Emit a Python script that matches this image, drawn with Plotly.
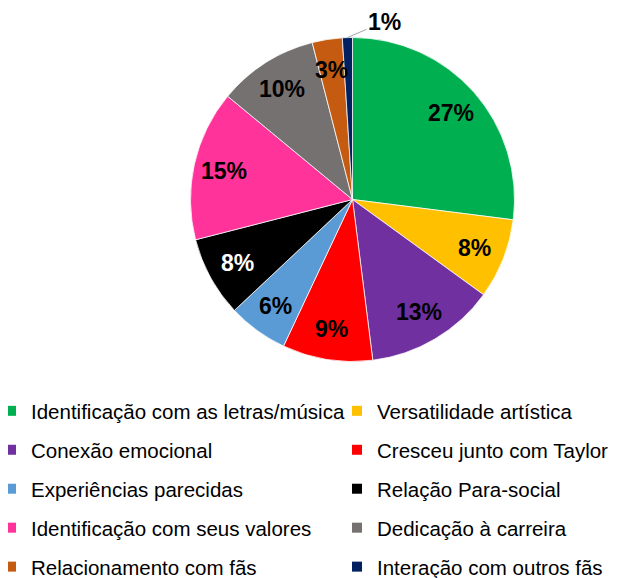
import math
import plotly.graph_objects as go

labels = [
    "Identificação com as letras/música",
    "Versatilidade artística",
    "Conexão emocional",
    "Cresceu junto com Taylor",
    "Experiências parecidas",
    "Relação Para-social",
    "Identificação com seus valores",
    "Dedicação à carreira",
    "Relacionamento com fãs",
    "Interação com outros fãs",
]
values = [27, 8, 13, 9, 6, 8, 15, 10, 3, 1]
colors = ["#00B050", "#FFC000", "#7030A0", "#FF0000", "#5B9BD5",
          "#000000", "#FF3399", "#767171", "#C55A11", "#002060"]
text_colors = ["#000000"] * 5 + ["#FFFFFF"] + ["#000000"] * 4
outside_label = [False] * 9 + [True]

# figure size (the page adds an 8px body margin, so the figure is 8px smaller)
W, H = 611, 570
FONT = "Liberation Sans, Arial, sans-serif"

# pie geometry (pixels, figure coordinates)
CX, CY, R = 344.5, 191.5, 162.0
LABEL_R = 0.81

fig = go.Figure()
fig.add_trace(go.Pie(
    labels=labels,
    values=values,
    sort=False,
    direction="clockwise",
    rotation=0,
    marker=dict(colors=colors, line=dict(color="#FFFFFF", width=0.75)),
    textinfo="none",
    showlegend=False,
    hoverinfo="label+percent",
    domain=dict(x=[(CX - R) / W, (CX + R) / W],
                y=[(H - (CY + R)) / H, (H - (CY - R)) / H]),
))

# percentage labels placed at each slice's mid-angle, derived from the values
total = sum(values)
cum = 0.0
for v, tc, outside in zip(values, text_colors, outside_label):
    mid = 2 * math.pi * (cum + v / 2) / total
    cum += v
    pct = f"{round(100 * v / total)}%"
    font = dict(family=FONT, size=23, color=tc, weight="bold")
    if not outside:
        px = CX + LABEL_R * R * math.sin(mid)
        py = CY - LABEL_R * R * math.cos(mid)
        fig.add_annotation(x=px / W, y=1 - py / H, xref="paper", yref="paper",
                           text=pct, showarrow=False, font=font,
                           xanchor="center", yanchor="middle")
    else:
        px = CX + R * math.sin(mid)
        py = CY - R * math.cos(mid)
        fig.add_annotation(x=px / W, y=1 - py / H, xref="paper", yref="paper",
                           text=pct, showarrow=True, arrowhead=0,
                           arrowcolor="#A6A6A6", arrowwidth=1,
                           ax=37, ay=-16, standoff=0, font=font)

# legend entries (two columns) built from the same arrays
for i, (lab, col) in enumerate(zip(labels, colors)):
    fig.add_trace(go.Scatter(
        x=[None], y=[None], mode="markers",
        marker=dict(symbol="square", size=10, color=col),
        name=lab, legendgroup=lab,
        legend="legend" if i % 2 == 0 else "legend2",
        showlegend=True,
    ))

leg_common = dict(
    orientation="v",
    yanchor="top",
    xanchor="left",
    font=dict(family=FONT, size=20.5, color="#000000"),
    bgcolor="rgba(0,0,0,0)",
    borderwidth=0,
    tracegroupgap=9.3,
    traceorder="grouped",
)

LEG_TOP = 383
fig.update_layout(
    width=W, height=H,
    margin=dict(l=0, r=0, t=0, b=0, autoexpand=False),
    paper_bgcolor="#FFFFFF",
    plot_bgcolor="#FFFFFF",
    xaxis=dict(visible=False),
    yaxis=dict(visible=False),
    legend=dict(x=-17 / W, y=(H - LEG_TOP) / H, **leg_common),
    legend2=dict(x=329 / W, y=(H - LEG_TOP) / H, **leg_common),
)

fig.write_html("out.html")
